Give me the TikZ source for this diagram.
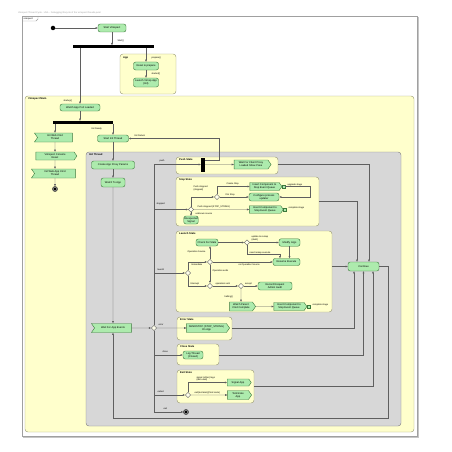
\documentclass[tikz,border=0pt]{standalone}
\usepackage{fontspec}
\setmainfont{Liberation Sans}
\usetikzlibrary{arrows.meta,shapes.geometric,shapes.symbols}
\definecolor{nodef}{RGB}{173,235,173}
\definecolor{nodeb}{RGB}{60,120,60}
\definecolor{yelf}{RGB}{255,255,204}
\definecolor{yelb}{RGB}{160,160,125}
\definecolor{grayf}{RGB}{215,215,215}
\definecolor{grayb}{RGB}{135,135,135}
\definecolor{linec}{RGB}{95,95,95}
\definecolor{framec}{RGB}{160,160,160}
\definecolor{diamf}{RGB}{255,255,235}
\newcommand{\dfont}{\fontsize{2.6}{2.95}\selectfont}
\newcommand{\lfont}{\fontsize{2.3}{2.6}\selectfont}
\tikzset{
 act/.style={draw=nodeb, fill=nodef, rounded corners=2.2pt, line width=0.4pt, inner sep=0.3pt, align=center, font=\dfont},
 sendsig/.style={signal, signal to=east, signal from=nowhere, signal pointer angle=110, draw=nodeb, fill=nodef, line width=0.4pt, inner sep=0.3pt, align=center, font=\dfont},
 recvsig/.style={signal, signal to=nowhere, signal from=west, signal pointer angle=110, draw=nodeb, fill=nodef, line width=0.4pt, inner sep=0.3pt, align=center, font=\dfont},
 dec/.style={diamond, draw=linec, fill=diamf, minimum width=5.5pt, minimum height=5.5pt, inner sep=0pt, line width=0.4pt},
 forkbar/.style={fill=black, inner sep=0pt},
 arr/.style={draw=linec, line width=0.45pt, -{Triangle[length=2.2pt,width=1.8pt]}},
 plain/.style={draw=linec, line width=0.45pt},
 lbl/.style={font=\lfont, inner sep=0.3pt, anchor=west, align=left},
 statebox/.style={draw=yelb, fill=yelf, rounded corners=3pt, line width=0.45pt, inner sep=0pt},
 graybox/.style={draw=grayb, fill=grayf, rounded corners=3pt, line width=0.45pt, inner sep=0pt},
 stitle/.style={font=\dfont\bfseries, anchor=west, inner sep=0pt},
 portbox/.style={draw=nodeb, fill=nodef, minimum size=3pt, inner sep=0pt, line width=0.4pt},
 startst/.style={circle, fill=black, minimum size=4.5pt, inner sep=0pt},
 endst/.style={circle, draw=black, fill=white, line width=0.45pt, minimum size=5pt, inner sep=0pt, path picture={\fill[black] (path picture bounding box.center) circle (1.8pt);}},
}
\begin{document}
\begin{tikzpicture}[x=1pt,y=-1pt]
\useasboundingbox (0,0) rectangle (452,452);
\fill[white] (0,0) rectangle (452,452);
% frame
\node[font=\lfont, text=framec, anchor=west, inner sep=0pt] (title) at (18,13.2) {Vimspect Thread Cycle - UML - Debugging lifecycle of the vimspect threads.puml};
\draw[framec!60, line width=0.8pt] (23,437) -- (418,437) -- (418,17);
\draw[framec, line width=0.45pt] (22,16) rectangle (417,436);
\draw[framec, line width=0.45pt] (22,21) -- (36,21) -- (38,19) -- (38,16);
\node[font=\lfont, anchor=west, inner sep=0pt] (tab) at (23.5,18.6) {vimspect};
% partitions
\node[statebox, minimum width=56pt, minimum height=40pt] (app) at (148,74) {};
\node[stitle] (appt) at (123,57.5) {App};
\node[statebox, minimum width=389pt, minimum height=336pt] (mainpart) at (219.5,264) {};
\node[stitle] (maint) at (28,99) {Vimspect Main};
\node[graybox, minimum width=315pt, minimum height=274pt] (initpart) at (243.5,289) {};
\node[stitle] (initt) at (89,155) {Init Thread};
% sub states
\node[statebox, minimum width=102pt, minimum height=17pt] (pushstate) at (227,165.5) {};
\node[stitle] (pusht) at (179,159.5) {Push State};
\node[statebox, minimum width=143pt, minimum height=49pt] (stopstate) at (247.5,201.5) {};
\node[stitle] (stopt) at (179,180) {Stop State};
\node[statebox, minimum width=156pt, minimum height=81pt] (launchstate) at (254,271.5) {};
\node[stitle] (launcht) at (179,234) {Launch State};
\node[statebox, minimum width=55pt, minimum height=23pt] (errorstate) at (204.5,328.5) {};
\node[stitle] (errort) at (180,320) {Error State};
\node[statebox, minimum width=42pt, minimum height=21pt] (closestate) at (198,354.5) {};
\node[stitle] (closet) at (180,347) {Close State};
\node[statebox, minimum width=77pt, minimum height=33pt] (exitstate) at (215.5,386.5) {};
\node[stitle] (exitt) at (180,373) {Exit State};

% top
\node[startst] (init) at (53,28) {};
\node[act, minimum width=28pt, minimum height=8pt] (start) at (112,28) {Start Vimspect};
\node[forkbar, minimum width=81pt, minimum height=2.6pt] (bar1) at (113.5,46.7) {};
\node[act, minimum width=25pt, minimum height=8pt] (reset) at (146,66) {Reset \& prepare};
\node[act, minimum width=25pt, minimum height=9pt] (launchapp) at (146,82.5) {Launch Vimsp App\\(Init)};
% main
\node[act, minimum width=40pt, minimum height=7pt] (watchport) at (80,107.5) {Watch App Port Loaded};
\node[forkbar, minimum width=60pt, minimum height=2.6pt] (bar2) at (83,122.3) {};
\node[recvsig, minimum width=38pt, minimum height=9pt] (webcmd) at (55,137.5) {Init Web Cmd\\Thread};
\node[sendsig, minimum width=41pt, minimum height=8pt] (console) at (55,156) {Vimspect Console\\Reset};
\node[recvsig, minimum width=44pt, minimum height=9pt] (webapp) at (55,173.5) {Init Web App Cmd\\Thread};
\node[endst] (end1) at (55,189) {};
\node[act, minimum width=31pt, minimum height=7pt] (startinit) at (113,138.5) {Start Init Thread};
% init thread column
\node[act, minimum width=43pt, minimum height=8pt] (create) at (113,165) {Create App Proxy Params};
\node[act, minimum width=24pt, minimum height=9pt] (watchto) at (113,182.5) {Watch To App};
\node[recvsig, minimum width=40pt, minimum height=9pt] (wait) at (113,328) {Wait For App Events};
\node[dec] (D0) at (154,328) {};
\node[endst] (end2) at (186,412) {};
% push
\node[forkbar, minimum width=3.5pt, minimum height=14pt] (pushbar) at (202.8,164.5) {};
\node[sendsig, minimum width=37pt, minimum height=9pt] (pushnode) at (251,164.5) {Wait For Client Proxy\\Loaded Show Pane};
\coordinate (retc) at (219,160);
% stop
\node[dec] (S1) at (191,209.5) {};
\node[dec] (S2) at (217,197) {};
\node[sendsig, minimum width=32pt, minimum height=8pt] (stopA) at (264.5,186.5) {Insert Component to\\Stop Event Queue};
\node[act, minimum width=30pt, minimum height=8pt] (stopB) at (264,197) {Configure process\\updater};
\node[sendsig, minimum width=34pt, minimum height=7.5pt] (stopC) at (265,209.5) {Insert Component to\\Stop Event Queue};
\node[portbox] (pinA) at (283.5,186.5) {};
\node[portbox] (pinC) at (284.5,209.5) {};
\coordinate (loopc) at (310,197);
\node[act, minimum width=14pt, minimum height=8pt] (unexp) at (191,220) {Unexpected\\Signal};
% launch
\node[dec] (L0) at (188,273) {};
\node[dec] (L2) at (210,262) {};
\node[dec] (L3) at (210,286) {};
\node[dec] (L1) at (247,242.5) {};
\node[dec] (L4) at (241,286) {};
\node[act, minimum width=22pt, minimum height=7pt] (check) at (207,242.5) {Check For Stale};
\node[act, minimum width=21pt, minimum height=7.5pt] (modify) at (289.5,242.5) {Modify Args};
\node[act, minimum width=27pt, minimum height=7pt] (resume) at (286.5,262) {Resume Execute};
\node[act, minimum width=34pt, minimum height=8pt] (record) at (275,286) {Record Request\\Admin Audit};
\node[sendsig, minimum width=26pt, minimum height=9pt] (watchparent) at (241,306.5) {Watch Parent\\Cmd Complete};
\node[sendsig, minimum width=33pt, minimum height=8pt] (insertL) at (289,306.5) {Insert Component to\\Stop Event Queue};
\node[portbox] (pinL) at (308.5,306.5) {};
\coordinate (remapc) at (280,254.5);
% error / close / exit
\node[sendsig, minimum width=43pt, minimum height=9pt] (errnode) at (206.5,328) {SENDSTOP (STOP\_STRING)\\On App};
\node[act, minimum width=20pt, minimum height=8pt] (closenode) at (193,355) {Log Thread\\(Closed)};
\node[dec] (E0) at (188,395) {};
\node[sendsig, minimum width=24pt, minimum height=7pt] (signalapp) at (238,382.5) {Signal App};
\node[sendsig, minimum width=24pt, minimum height=9pt] (terminate) at (238,395) {Terminate\\App};
% continue
\node[act, minimum width=31pt, minimum height=9pt] (cont) at (363.5,266.5) {Continue};
\coordinate (loopr) at (388,418);

% edges
\draw[arr] (init) -- (start);
\draw[arr] (start.south) -- (start.south |- bar1.north);
\draw[arr] (bar1.south -| watchport) -- (watchport.north);
\draw[arr] (bar1.south -| reset) -- (reset.north);
\draw[arr] (reset) -- (launchapp);
\draw[arr] (watchport.south) -- (watchport.south |- bar2.north);
\draw[arr] (bar2.south -| webcmd) -- (webcmd.north);
\draw[arr] (webcmd) -- (console);
\draw[arr] (console) -- (webapp);
\draw[arr] (webapp) -- (end1);
\draw[arr] (bar2.south -| startinit) -- (startinit.north);
\draw[arr] (pushbar.east |- retc) -- (retc) |- (startinit.east);
\draw[arr] (startinit) -- (create);
\draw[arr] (create) -- (watchto);
\draw[arr] (watchto) -- (wait);
\draw[arr] (wait) -- (D0);
\draw[arr] (D0.north) |- (pushbar.west);
\draw[arr] (D0.north) |- (S1.west);
\draw[arr] (D0.north) |- (L0.west);
\draw[arr] (D0) -- (errnode);
\draw[arr] (D0.south) |- (closenode.west);
\draw[arr] (D0.south) |- (E0.west);
\draw[arr] (D0.south) |- (end2.west);
% push
\draw[arr] (pushbar) -- (pushnode);
\draw[arr] (pushstate.east |- pushnode) -| ([xshift=5.5pt]cont.north);
% stop
\draw[arr] (S1.north) |- (S2.west);
\draw[arr] (S2.north) |- (stopA.west);
\draw[arr] (S2) -- (stopB);
\draw[plain] (stopA) -- (pinA);
\draw[arr] (pinA.east) -| (loopc) -- (stopB.east);
\draw[arr] (S1) -- (stopC);
\draw[plain] (stopC) -- (pinC);
\draw[arr] (S1) -- (unexp);
\draw[arr] (stopstate.east) -| ([xshift=-6.5pt]cont.north);
% launch
\draw[arr] (L0.north) |- (L2.west);
\draw[arr] (L0.south) |- (L3.west);
\draw[arr] (L2.north) -- (L2.north |- check.south);
\draw[arr] (check) -- (L1);
\draw[arr] (L1) -- (modify);
\draw[arr] (L1.south) |- (remapc) -- (remapc |- resume.north);
\draw[arr] (modify.south) -- (modify.south |- resume.north);
\draw[arr] (L2) -- (resume);
\draw[arr] (L2) -- (L3);
\draw[arr] (L3) -- (L4);
\draw[arr] (L4) -- (record);
\draw[arr] (L4) -- (watchparent);
\draw[arr] (watchparent) -- (insertL);
\draw[plain] (insertL) -- (pinL);
\draw[arr] (launchstate.east |- cont.west) -- (cont.west);
% error close exit
\draw[arr] (errorstate.east |- errnode) -| ([xshift=-9.5pt]cont.south);
\draw[arr] (closestate.east |- closenode) -| (cont.south);
\draw[arr] (exitstate.east) -| ([xshift=9.5pt]cont.south);
\draw[arr] (E0.north) |- (signalapp.west);
\draw[arr] (E0) -- (terminate);
% loop
\draw[arr] (cont.east) -| (loopr) -| (wait.south);

% labels
\node[lbl] (l1) at (117,40.5) {Start()};
\node[lbl] (l2) at (151,57.5) {prepare()};
\node[lbl] (l3) at (151,74) {started()};
\node[lbl] (l4) at (63,100.5) {startup()};
\node[lbl] (l5) at (91,128.5) {Init Ready};
\node[lbl] (l6) at (134,135.5) {Init Return};
\node[lbl] (l7) at (159,161) {push};
\node[lbl] (l8) at (156,204) {stopped};
\node[lbl] (l9) at (157,269.5) {launch};
\node[lbl] (l10) at (158,325) {error};
\node[lbl] (l11) at (162,352) {close};
\node[lbl] (l12) at (157,392) {exited};
\node[lbl] (l13) at (163,409) {exit};
\node[lbl, anchor=north west] (l14) at (193,185.5) {Push stopped\\(stopped)};
\node[lbl] (l15) at (226,184) {Create Stop};
\node[lbl] (l16) at (225,194.5) {Fini Stop};
\node[lbl] (l17) at (197,206.8) {Push stopped (STOP\_STRING)};
\node[lbl] (l18) at (195,214) {unknown source};
\node[lbl] (l19) at (287,184.5) {upgrade stage};
\node[lbl] (l20) at (288,207.5) {complete stage};
\node[lbl] (l21) at (191,264.8) {Immediate};
\node[lbl] (l22) at (190,283.5) {Interrupt};
\node[lbl] (l23) at (187,252) {Operation Source};
\node[lbl, anchor=north west] (l24) at (251,235.3) {update to remap\\(dash)};
\node[lbl] (l25) at (249,252.5) {need remap execute};
\node[lbl] (l26) at (238,264.8) {no Operation Source};
\node[lbl] (l27) at (212,271) {Operation ends};
\node[lbl] (l28) at (215,283.5) {operation sent};
\node[lbl] (l29) at (244.5,283.5) {accept};
\node[lbl] (l30) at (224,297) {halting()};
\node[lbl] (l31) at (312,304.5) {complete stage};
\node[lbl, anchor=north west] (l32) at (196,376) {signal (other) tags\\(last used)};
\node[lbl] (l33) at (194,392.5) {exit(terminal)(Cmd code)};
\end{tikzpicture}
\end{document}
